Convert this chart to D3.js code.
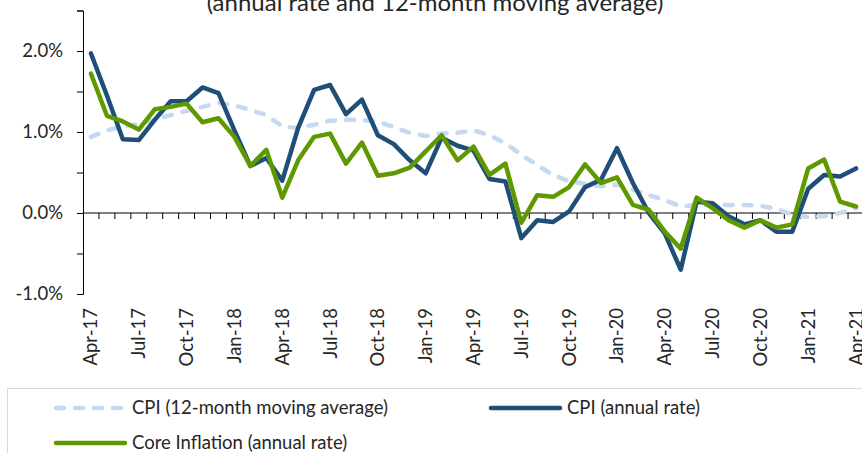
<!DOCTYPE html>
<html>
<head>
<meta charset="utf-8">
<script src="https://cdn.jsdelivr.net/npm/d3@7/dist/d3.min.js"></script>
<style>
  body { margin: 0; background: #fff; }
  svg { display: block; font-family: Lato, "Open Sans", sans-serif; }
</style>
</head>
<body>
<svg id="chart" width="862" height="453"></svg>
<script>
const months = [
  "Apr-17","May-17","Jun-17","Jul-17","Aug-17","Sep-17","Oct-17","Nov-17","Dec-17",
  "Jan-18","Feb-18","Mar-18","Apr-18","May-18","Jun-18","Jul-18","Aug-18","Sep-18",
  "Oct-18","Nov-18","Dec-18","Jan-19","Feb-19","Mar-19","Apr-19","May-19","Jun-19",
  "Jul-19","Aug-19","Sep-19","Oct-19","Nov-19","Dec-19","Jan-20","Feb-20","Mar-20",
  "Apr-20","May-20","Jun-20","Jul-20","Aug-20","Sep-20","Oct-20","Nov-20","Dec-20",
  "Jan-21","Feb-21","Mar-21","Apr-21"
];
const labelledMonths = ["Apr-17","Jul-17","Oct-17","Jan-18","Apr-18","Jul-18","Oct-18","Jan-19",
  "Apr-19","Jul-19","Oct-19","Jan-20","Apr-20","Jul-20","Oct-20","Jan-21","Apr-21"];

const cpiAvg = [0.94,1.02,1.07,1.10,1.15,1.21,1.26,1.31,1.36,1.33,1.27,1.21,
  1.07,1.05,1.09,1.14,1.15,1.15,1.13,1.06,0.99,0.95,0.98,0.99,
  1.02,0.96,0.86,0.72,0.59,0.47,0.39,0.36,0.33,0.35,0.29,0.22,
  0.16,0.08,0.10,0.10,0.10,0.10,0.09,0.05,-0.02,-0.05,-0.04,0.00,0.06];
const cpiAnnual = [1.97,1.45,0.91,0.90,1.15,1.38,1.38,1.55,1.48,1.02,0.58,0.68,
  0.40,1.05,1.52,1.58,1.22,1.40,0.96,0.85,0.65,0.49,0.93,0.83,
  0.77,0.42,0.39,-0.31,-0.09,-0.11,0.02,0.32,0.41,0.80,0.37,0.00,
  -0.25,-0.70,0.14,0.12,-0.04,-0.14,-0.09,-0.23,-0.23,0.30,0.47,0.45,0.55];
const coreAnnual = [1.72,1.20,1.13,1.03,1.28,1.31,1.35,1.12,1.17,0.94,0.58,0.78,
  0.19,0.65,0.94,0.98,0.61,0.87,0.46,0.49,0.56,0.76,0.96,0.65,
  0.82,0.47,0.61,-0.12,0.22,0.20,0.32,0.60,0.37,0.44,0.10,0.04,
  -0.23,-0.44,0.19,0.06,-0.09,-0.18,-0.09,-0.18,-0.14,0.55,0.66,0.14,0.08];

const seriesNames = ["CPI (12-month moving average)", "CPI (annual rate)", "Core Inflation (annual rate)"];
const seriesColors = ["#c6d9f1", "#1f4e79", "#5f9900"];
const yTicks = [-1, -0.5, 0, 0.5, 1, 1.5, 2, 2.5];
const titleText = "(annual rate and 12-month moving average)";

const svg = d3.select("#chart");
const fontSize = 18.5;

const x = d3.scaleBand().domain(months).range([83, 864]);
const y = d3.scaleLinear().domain([-1, 2.5]).range([294, 10.5]);

// title (top is cropped in the original)
svg.append("text")
  .attr("x", 435).attr("y", 11)
  .attr("text-anchor", "middle")
  .style("font-size", "24px")
  .attr("fill", "#262626")
  .text(titleText);

// y axis
const yAxis = svg.append("g")
  .attr("transform", "translate(83,0)")
  .call(d3.axisLeft(y)
    .tickValues(yTicks)
    .tickSize(6)
    .tickPadding(14)
    .tickFormat(d => Math.abs(d - Math.round(d)) < 1e-9 ? d.toFixed(1) + "%" : ""));
yAxis.select(".domain").attr("stroke", "#000");
yAxis.selectAll(".tick line").attr("stroke", "#000");
yAxis.selectAll("text")
  .style("font-size", fontSize + "px")
  .style("font-family", "Lato, sans-serif")
  .attr("fill", "#262626");

// x axis line at zero with ticks between categories
const xAxis = svg.append("g");
xAxis.append("line")
  .attr("x1", x.range()[0]).attr("x2", x.range()[1])
  .attr("y1", y(0)).attr("y2", y(0))
  .attr("stroke", "#000");
xAxis.selectAll(".xtick")
  .data(months.slice(1))
  .enter().append("line")
  .attr("class", "xtick")
  .attr("x1", d => x(d)).attr("x2", d => x(d))
  .attr("y1", y(0)).attr("y2", y(0) + 6)
  .attr("stroke", "#000");

// x labels sit below the plot area
svg.append("g").selectAll("text")
  .data(labelledMonths)
  .enter().append("text")
  .attr("transform", d => `translate(${x(d) + x.bandwidth() / 2},308) rotate(-90)`)
  .attr("text-anchor", "end")
  .attr("dy", "0.35em")
  .style("font-size", fontSize + "px")
  .attr("fill", "#262626")
  .text(d => d);

// lines
const line = d3.line()
  .x((d, i) => x(months[i]) + x.bandwidth() / 2)
  .y(d => y(d));

const allSeries = [cpiAvg, cpiAnnual, coreAnnual];
allSeries.forEach((vals, k) => {
  svg.append("path")
    .datum(vals)
    .attr("d", line)
    .attr("fill", "none")
    .attr("stroke", seriesColors[k])
    .attr("stroke-width", 4.5)
    .attr("stroke-linejoin", "round")
    .attr("stroke-linecap", "round")
    .attr("stroke-dasharray", k === 0 ? "8,11" : null);
});

// legend
const legend = svg.append("g");
legend.append("rect")
  .attr("x", 7.5).attr("y", 388.5)
  .attr("width", 900).attr("height", 120)
  .attr("fill", "none")
  .attr("stroke", "#d9d9d9");

const legendPos = [
  { lx: 54, ly: 408 },
  { lx: 489, ly: 408 },
  { lx: 54, ly: 443 }
];
seriesNames.forEach((name, k) => {
  const p = legendPos[k];
  legend.append("line")
    .attr("x1", p.lx + 2).attr("x2", p.lx + 71)
    .attr("y1", p.ly).attr("y2", p.ly)
    .attr("stroke", seriesColors[k])
    .attr("stroke-width", 4.5)
    .attr("stroke-linecap", "round")
    .attr("stroke-dasharray", k === 0 ? "8,11" : null);
  legend.append("text")
    .attr("x", p.lx + 78).attr("y", p.ly)
    .attr("dy", "0.35em")
    .style("font-size", fontSize + "px")
    .attr("fill", "#262626")
    .text(name);
});
</script>
</body>
</html>
